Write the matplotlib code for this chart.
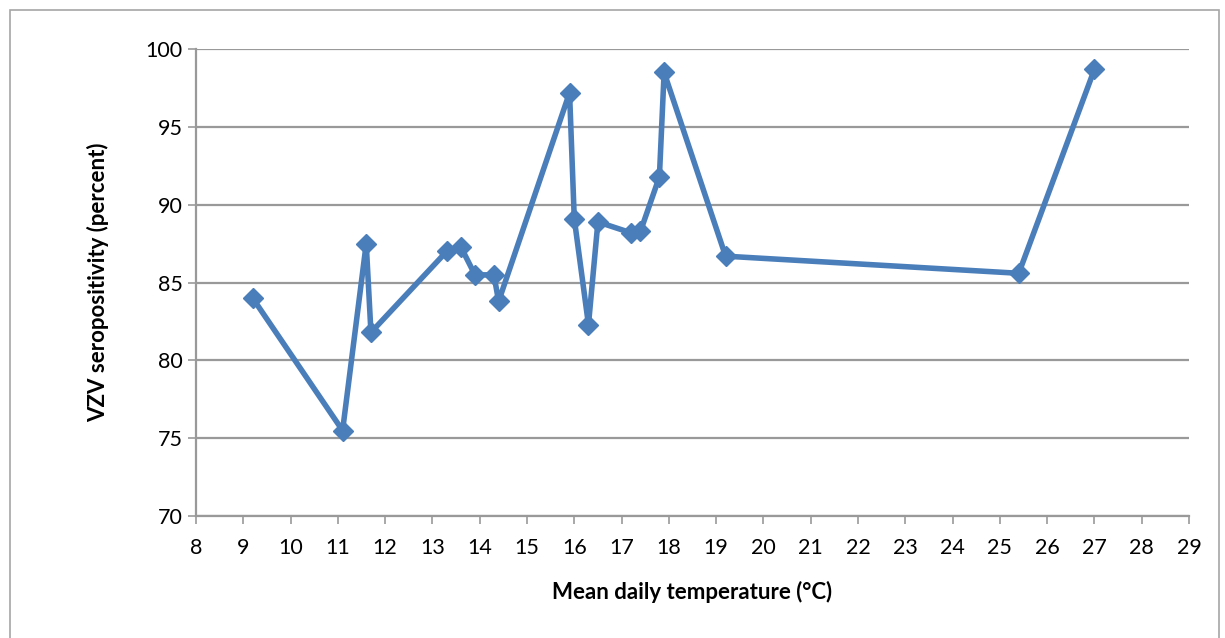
import numpy as np
import matplotlib.pyplot as plt
from matplotlib.patches import Rectangle

# mean daily temperature (C) and VZV seropositivity (%)
temperature = [9.2, 11.1, 11.6, 11.7, 13.3, 13.6, 13.9, 14.3, 14.4, 15.9,
               16.0, 16.3, 16.5, 17.2, 17.4, 17.8, 17.9, 19.2, 25.4, 27.0]
seropositivity = [84.0, 75.5, 87.5, 81.8, 87.0, 87.3, 85.5, 85.5, 83.8, 97.2,
                  89.1, 82.3, 88.9, 88.2, 88.3, 91.8, 98.5, 86.7, 85.6, 98.7]

x_ticks = list(range(8, 30))
y_ticks = list(range(70, 101, 5))

plt.rcParams['font.family'] = ['Lato', 'DejaVu Sans']

fig = plt.figure(figsize=(12.25, 6.38), dpi=100)
ax = fig.add_axes([0.16, 0.191, 0.8106, 0.732])

fig.patches.append(Rectangle((10 / 1225, -0.05), 1209 / 1225, 1.05 - 10 / 638,
                             transform=fig.transFigure, fill=False,
                             edgecolor='#a6a6a6', linewidth=1.2))

ax.plot(temperature, seropositivity, color='#4a7ebb', linewidth=4,
        marker='D', markersize=10, zorder=3)

ax.set_xlim(8, 29)
ax.set_ylim(70, 100)
ax.set_xticks(x_ticks)
ax.set_yticks(y_ticks)
ax.grid(axis='y', color='#999999', linewidth=1.6)
ax.set_axisbelow(True)

for s in ['top', 'right']:
    ax.spines[s].set_visible(False)
for s in ['left', 'bottom']:
    ax.spines[s].set_color('#999999')
    ax.spines[s].set_linewidth(1.6)

ax.tick_params(axis='both', colors='#999999', labelcolor='black',
               labelsize=15.5, length=6, width=1.2)
ax.tick_params(axis='x', pad=10)

ax.set_xlabel('Mean daily temperature (°C)', fontsize=16, fontweight='bold',
              labelpad=16)
ax.set_ylabel('VZV seropositivity (percent)', fontsize=16, fontweight='bold',
              labelpad=26)

fig.savefig('out.png', dpi=100)
